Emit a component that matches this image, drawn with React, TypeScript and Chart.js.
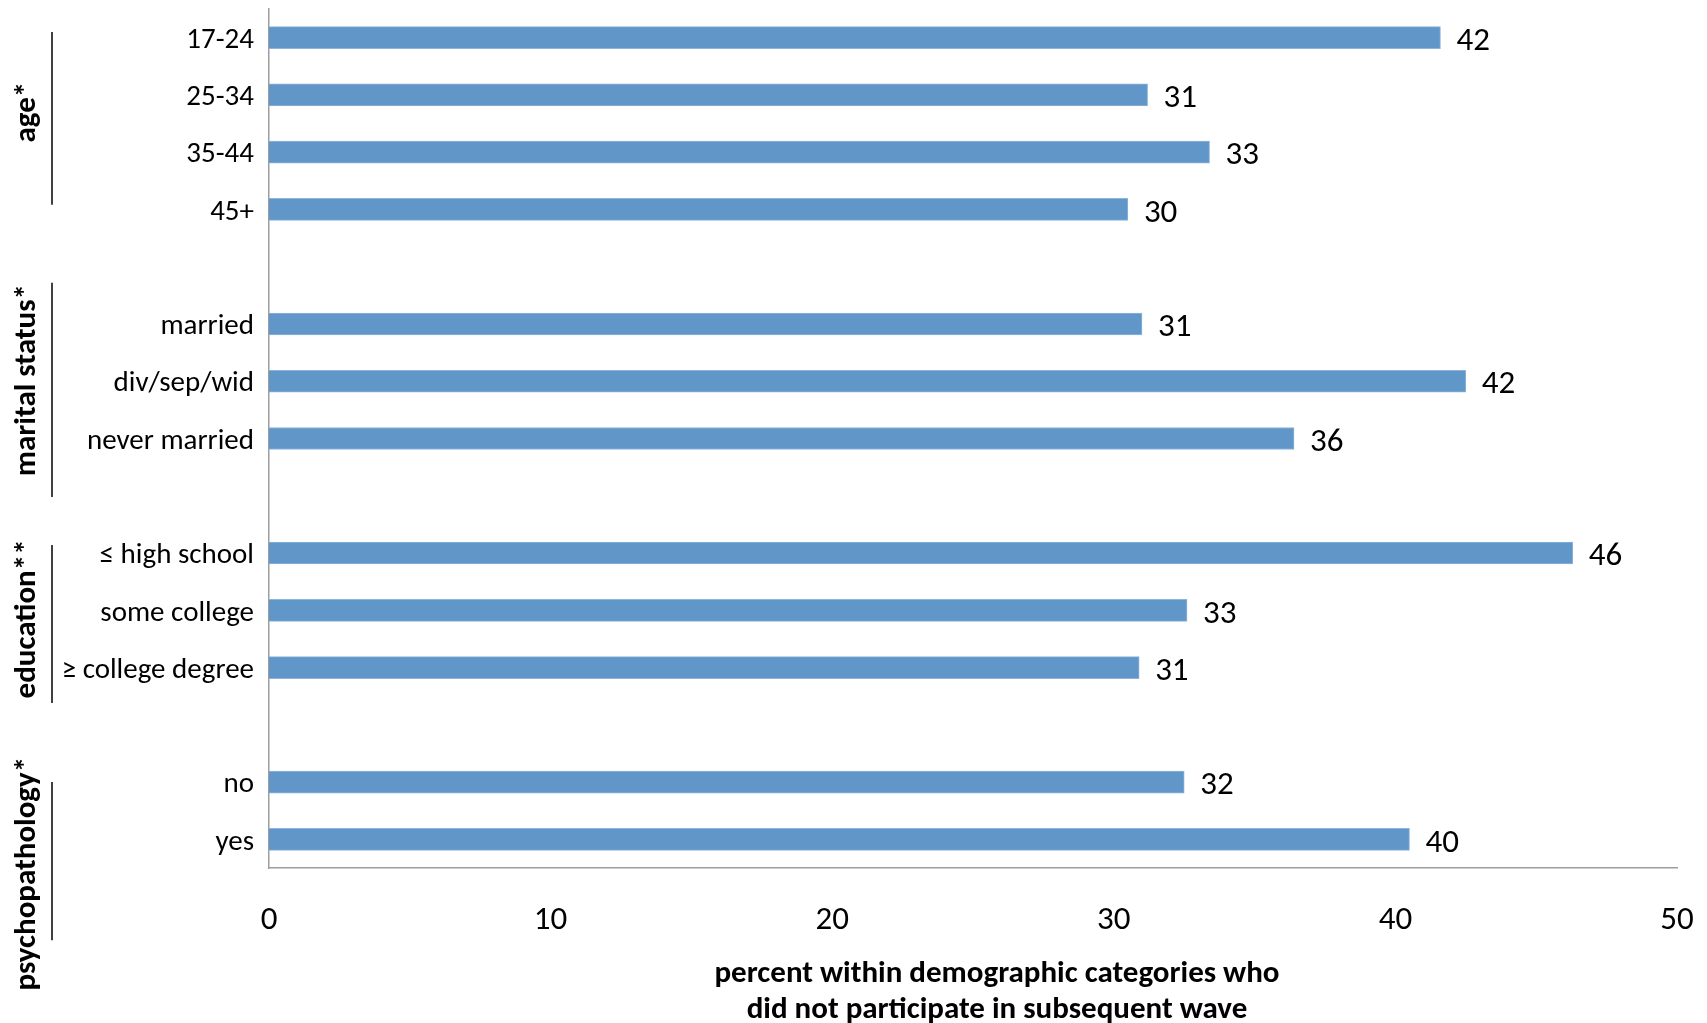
import React, { useEffect, useRef } from "react";
import { Chart, registerables } from "chart.js";

Chart.register(...registerables);

const categories = [
  "17-24", "25-34", "35-44", "45+", "",
  "married", "div/sep/wid", "never married", "",
  "≤ high school", "some college", "≥ college degree", "",
  "no", "yes",
];
const values = [41.6, 31.2, 33.4, 30.5, null, 31.0, 42.5, 36.4, null, 46.3, 32.6, 30.9, null, 32.5, 40.5];
const valueLabels = ["42", "31", "33", "30", "", "31", "42", "36", "", "46", "33", "31", "", "32", "40"];
const xTickValues = [0, 10, 20, 30, 40, 50];

const groupNames = ["age*", "marital status*", "education**", "psychopathology*"];
const groupStart = [-0.1, 4.28, 8.86, 13.0];
const groupEnd = [2.92, 8.02, 11.62, 15.76];
const groupLabelAt = [1.3, 5.98, 10.15, 14.6];

const titleLines = [
  "percent within demographic categories who",
  "did not participate in subsequent wave",
];

const FONT = "Carlito, Lato, 'Open Sans', sans-serif";

const overlayPlugin = {
  id: "overlay",
  afterDatasetsDraw(chart: any) {
    const ctx = chart.ctx;
    const meta = chart.getDatasetMeta(0);
    ctx.save();
    ctx.fillStyle = "#000";
    ctx.font = `33px ${FONT}`;
    ctx.textAlign = "left";
    ctx.textBaseline = "middle";
    meta.data.forEach((bar: any, i: number) => {
      if (values[i] == null) return;
      ctx.fillText(valueLabels[i], bar.x + 16, bar.y + 4);
    });
    ctx.restore();
  },
  afterDraw(chart: any) {
    const ctx = chart.ctx;
    const y = chart.scales.y;
    const area = chart.chartArea;
    ctx.save();
    ctx.strokeStyle = "#000";
    ctx.lineWidth = 1.5;
    ctx.fillStyle = "#000";
    ctx.font = `bold 31px ${FONT}`;
    ctx.textAlign = "center";
    ctx.textBaseline = "middle";
    groupNames.forEach((name, i) => {
      const y0 = y.getPixelForValue(groupStart[i]);
      const y1 = y.getPixelForValue(groupEnd[i]);
      ctx.beginPath();
      ctx.moveTo(52, y0);
      ctx.lineTo(52, y1);
      ctx.stroke();
      const yc = y.getPixelForValue(groupLabelAt[i]);
      ctx.save();
      ctx.translate(27, yc);
      ctx.rotate(-Math.PI / 2);
      ctx.fillText(name, 0, 0);
      ctx.restore();
    });
    ctx.font = `bold 31px ${FONT}`;
    const cx = (area.left + area.right) / 2 + 24;
    titleLines.forEach((line, i) => {
      ctx.fillText(line, cx, 974 + i * 36);
    });
    ctx.restore();
  },
};

export default function App() {
  const canvasRef = useRef<HTMLCanvasElement | null>(null);

  useEffect(() => {
    document.body.style.margin = "0";
    const canvas = canvasRef.current;
    if (!canvas) return;
    const chart = new Chart(canvas, {
      type: "bar",
      data: {
        labels: categories,
        datasets: [
          {
            data: values as any,
            backgroundColor: "#6096C8",
            borderColor: "#8DB4DC",
            borderWidth: 1,
            barThickness: 22,
          },
        ],
      },
      options: {
        indexAxis: "y",
        responsive: false,
        animation: false,
        maintainAspectRatio: false,
        layout: { padding: { top: 9, right: 30, left: 0, bottom: 0 } },
        plugins: {
          legend: { display: false },
          tooltip: { enabled: false },
          title: { display: false },
        },
        scales: {
          x: {
            type: "linear",
            min: 0,
            max: 50,
            afterBuildTicks: (scale: any) => {
              scale.ticks = xTickValues.map((v) => ({ value: v }));
            },
            afterFit: (scale: any) => {
              scale.height = 155;
              scale.paddingLeft = 0;
              scale.paddingRight = 0;
            },
            grid: { display: false, drawTicks: false },
            border: { display: true, color: "#9E9E9E", width: 1.5 },
            ticks: {
              color: "#000",
              padding: 33,
              font: { family: FONT, size: 33 },
            },
          },
          y: {
            type: "category",
            afterFit: (scale: any) => {
              scale.width = 269;
              scale.paddingTop = 0;
              scale.paddingBottom = 0;
            },
            grid: { display: false, drawTicks: false },
            border: { display: true, color: "#9E9E9E", width: 1.5 },
            ticks: {
              color: "#000",
              padding: 15,
              labelOffset: 3,
              autoSkip: false,
              font: { family: FONT, size: 29 },
            },
          },
        },
      },
      plugins: [overlayPlugin],
    });
    return () => chart.destroy();
  }, []);

  return (
    <div style={{ width: 1707, height: 1023, position: "relative" }}>
      <canvas ref={canvasRef} width={1707} height={1023} style={{ display: "block" }} />
    </div>
  );
}
